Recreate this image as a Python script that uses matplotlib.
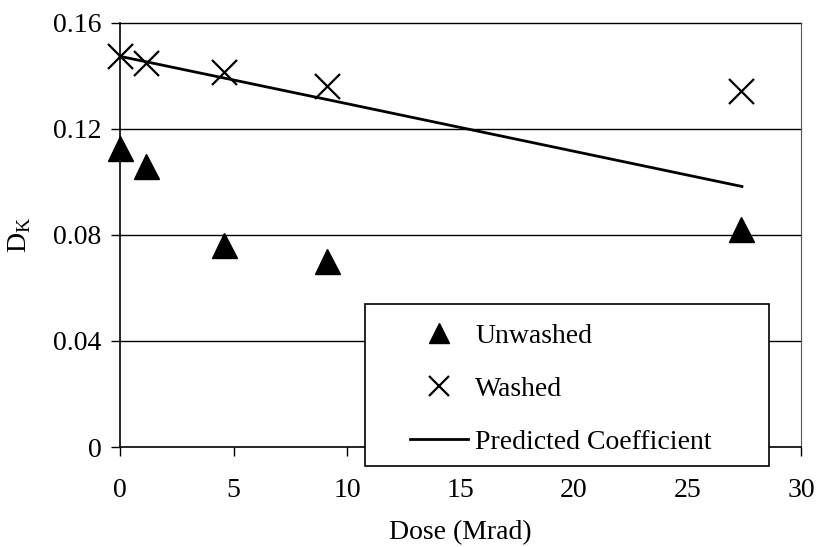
import matplotlib.pyplot as plt
from matplotlib.lines import Line2D
from matplotlib.patches import Rectangle

plt.rcParams['font.family'] = ['Liberation Serif', 'DejaVu Serif']

# dose in Mrad and measured coefficients
dose_unwashed = [0.0, 1.13, 4.6, 9.13, 27.35]
dk_unwashed = [0.113, 0.106, 0.0763, 0.0703, 0.0823]

dose_washed = [0.0, 1.13, 4.6, 9.13, 27.35]
dk_washed = [0.1474, 0.1449, 0.1415, 0.1363, 0.1342]

dose_pred = [0.0, 1.13, 4.6, 9.13, 27.4]
dk_pred = [0.1474, 0.1454, 0.1392, 0.1311, 0.0983]

xticks = [0, 5, 10, 15, 20, 25, 30]
yticks = [0, 0.04, 0.08, 0.12, 0.16]
ytick_labels = ['0', '0.04', '0.08', '0.12', '0.16']

fig = plt.figure(figsize=(8.17, 5.47), dpi=100)
ax = fig.add_axes([0.1469, 0.1828, 0.8335, 0.7752])

for y in yticks[1:]:
    ax.axhline(y, color='black', lw=1.0, zorder=1, clip_on=False)

ax.plot(dose_pred, dk_pred, color='black', lw=2.0, zorder=2, clip_on=False)
ax.plot(dose_unwashed, dk_unwashed, linestyle='none', marker='^', ms=18,
        color='black', zorder=3, clip_on=False)
ax.plot(dose_washed, dk_washed, linestyle='none', marker='x', ms=18,
        mew=1.6, color='black', zorder=3, clip_on=False)

ax.set_xlim(0, 30)
ax.set_ylim(0, 0.16)
ax.set_xticks(xticks)
ax.set_yticks(yticks)
ax.set_yticklabels(ytick_labels)
ax.tick_params(direction='out', length=6.5, width=1, labelsize=20, color='black')
ax.tick_params(axis='x', pad=16)
ax.tick_params(axis='y', pad=7)

for side in ['left', 'bottom']:
    ax.spines[side].set_linewidth(1.2)
ax.spines['top'].set_visible(False)
ax.spines['right'].set_color('#555555')
ax.spines['right'].set_linewidth(0.8)

ax.set_xlabel('Dose (Mrad)', fontsize=20, labelpad=12)
ax.set_ylabel(r'D$_{\mathregular{K}}$', fontsize=20, labelpad=14)

# legend box drawn separately so the entries can sit inset from its edge
fig.patches.append(Rectangle((0.447, 0.148), 0.494, 0.296,
                             transform=fig.transFigure, facecolor='white',
                             edgecolor='black', lw=1.2, zorder=4))

handles = [
    Line2D([], [], linestyle='none', marker='^', ms=15, color='black'),
    Line2D([], [], linestyle='none', marker='x', ms=15, mew=1.6, color='black'),
    Line2D([], [], color='black', lw=2.0),
]
labels = ['Unwashed', 'Washed', 'Predicted Coefficient']
leg = fig.legend(handles, labels, loc='upper left',
                 bbox_to_anchor=(0.502, 0.409),
                 fontsize=20, frameon=False, handlelength=2.1,
                 handletextpad=0.25, labelspacing=1.0, borderpad=0,
                 borderaxespad=0)
leg.set_zorder(5)

fig.savefig('out.png', dpi=100)
